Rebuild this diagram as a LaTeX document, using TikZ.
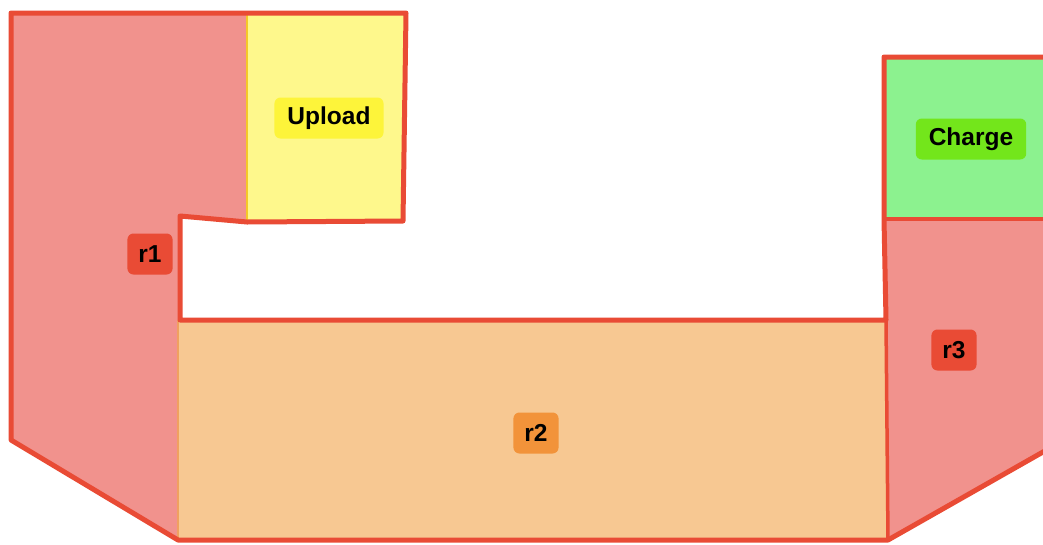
\documentclass[tikz,border=0pt]{standalone}
\usepackage{fontspec}
\setmainfont{Liberation Sans}
\definecolor{edge}{HTML}{E94B35}
\definecolor{rfill}{HTML}{F1928D}
\definecolor{ufill}{HTML}{FEF88C}
\definecolor{ulab}{HTML}{FDF43A}
\definecolor{cfill}{HTML}{8CF28F}
\definecolor{clab}{HTML}{73E61B}
\definecolor{ofill}{HTML}{F7C892}
\definecolor{olab}{HTML}{F2933A}
\definecolor{uedge}{HTML}{F5C828}
\definecolor{oedge}{HTML}{F0A060}
\tikzset{
  lab/.style={rounded corners=6pt, inner xsep=13pt, minimum height=41pt,
    font=\fontsize{24.5}{28}\selectfont\bfseries, text=black},
}
\begin{document}
\begin{tikzpicture}[x=1pt,y=-1pt]
\useasboundingbox (0,0) rectangle (1043,544);
\clip (0,0) rectangle (1043,544);
% fills
\fill[rfill] (11,13) -- (247,13) -- (247,222) -- (180,216) -- (180,320) -- (178,320) -- (178,540) -- (11,440) -- cycle;
\fill[ufill] (247,13) -- (406,13) -- (403,221) -- (247,222) -- cycle;
\fill[ofill] (178,320) -- (886,320) -- (888,540) -- (178,540) -- cycle;
\fill[cfill] (884,57) -- (1050,57) -- (1050,219) -- (884,219) -- cycle;
\fill[rfill] (884,219) -- (1050,219) -- (1050,448) -- (888,540) -- (886,320) -- cycle;
% internal boundaries
\draw[uedge, line width=2pt] (247,15) -- (247,221);
\draw[oedge, line width=2pt] (178,320) -- (178,538);
\draw[edge, line width=3.5pt] (886,320) -- (888,540);
\draw[edge, line width=3.5pt] (884,219) -- (1050,219);
% outline
\draw[edge, line width=5pt, line join=round]
  (11,13) -- (406,13) -- (403,221) -- (247,222) -- (180,216) -- (180,320)
  -- (886,320) -- (884,219) -- (884,57) -- (1050,57) -- (1050,448)
  -- (888,540) -- (178,540) -- (11,440) -- cycle;
% labels
\node[lab, fill=ulab] (upload) at (329,118) {Upload};
\node[lab, fill=clab] (charge) at (971,139) {Charge};
\node[lab, fill=edge, inner xsep=11pt] (r1) at (150,254) {r1};
\node[lab, fill=olab, inner xsep=11pt] (r2) at (536,433) {r2};
\node[lab, fill=edge, inner xsep=11pt] (r3) at (954,350) {r3};
\end{tikzpicture}
\end{document}
